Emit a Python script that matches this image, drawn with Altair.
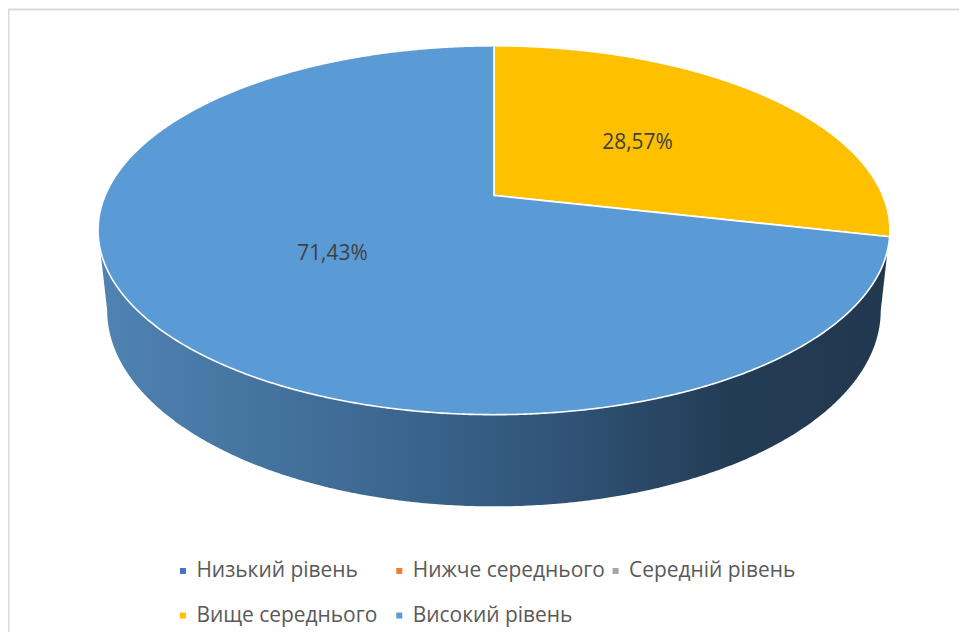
import altair as alt
import numpy as np
import pandas as pd

# ---- data ----
categories = ["Низький рівень", "Нижче середнього", "Середній рівень",
              "Вище середнього", "Високий рівень"]
values = [0.0, 0.0, 0.0, 28.57, 71.43]
colors = ["#4472c4", "#ed7d31", "#a5a5a5", "#ffc000", "#5b9bd5"]

# ---- geometry of the tilted (perspective) pie, in page pixels ----
W, H = 954, 625
X0, Y0 = 8, 8
CX, CY = 495.5, 195.0          # projected centre of top face
SX, SY, K = 390.0, 178.4, 0.189  # top face radii / perspective factor
BSX, BSY, BCY = 381.0, 189.5, 273.3  # base (bottom) rim
LABEL_R = 0.5


def top_pt(theta_deg, r=1.0):
    th = np.radians(theta_deg)
    d = 1 + K * r * np.cos(th)
    return CX + SX * r * np.sin(th) / d, CY - SY * r * np.cos(th) / d


def base_pt(theta_deg):
    th = np.radians(theta_deg)
    d = 1 + K * np.cos(th)
    return CX + BSX * np.sin(th) / d, BCY - BSY * np.cos(th) / d


total = sum(values)
slice_rows, label_rows = [], []
start = 0.0
for cat, v in zip(categories, values):
    span = 360.0 * v / total
    if v > 0:
        n = max(int(span * 3), 4)
        pts = [(CX, CY)] + [top_pt(t) for t in np.linspace(start, start + span, n + 1)]
        for i, (x, y) in enumerate(pts):
            slice_rows.append({"category": cat, "x": x, "y": y, "i": i})
        lx, ly = top_pt(start + span / 2, LABEL_R)
        label_rows.append({"category": cat, "x": lx, "y": ly,
                           "text": f"{v:.2f}".replace(".", ",") + "%"})
    start += span

slices_df = pd.DataFrame(slice_rows)
labels_df = pd.DataFrame(label_rows)

# side wall (front half) polygon: top rim front arc + base rim back
th_s = np.degrees(np.arccos(-K))
front = np.linspace(th_s, 360 - th_s, 400)
side_pts = [top_pt(t) for t in front] + [base_pt(t) for t in front[::-1]]
side_df = pd.DataFrame({"x": [p[0] for p in side_pts],
                        "y": [p[1] for p in side_pts],
                        "i": range(len(side_pts))})

xs = alt.Scale(domain=[X0, X0 + W], nice=False, zero=False)
ys = alt.Scale(domain=[Y0, Y0 + H], nice=False, zero=False, reverse=True)

side_grad = alt.Gradient(
    gradient="linear", x1=0, x2=1, y1=0, y2=0,
    stops=[alt.GradientStop(color="#5083b3", offset=0),
           alt.GradientStop(color="#3d6892", offset=0.35),
           alt.GradientStop(color="#2f5275", offset=0.6),
           alt.GradientStop(color="#233c55", offset=0.8),
           alt.GradientStop(color="#21384f", offset=1)])

side = alt.Chart(side_df).mark_line(
    interpolate="linear-closed", filled=True, fill=side_grad, strokeWidth=0
).encode(
    x=alt.X("x:Q", scale=xs, axis=None),
    y=alt.Y("y:Q", scale=ys, axis=None),
    order="i:Q",
)

top = alt.Chart(slices_df).mark_line(
    interpolate="linear-closed", filled=True, stroke="white",
    strokeWidth=1.6, strokeJoin="round"
).encode(
    x=alt.X("x:Q", scale=xs, axis=None),
    y=alt.Y("y:Q", scale=ys, axis=None),
    fill=alt.Fill("category:N",
                  scale=alt.Scale(domain=categories, range=colors),
                  legend=alt.Legend(
                      title=None, orient="none", legendX=165, legendY=553,
                      direction="horizontal", columns=3, gridAlign="all",
                      columnPadding=0, rowPadding=23, padding=0,
                      symbolType="square", symbolSize=36,
                      symbolStrokeWidth=0, symbolOpacity=1,
                      labelFont="Open Sans", labelFontSize=21,
                      labelColor="#595959", labelOffset=3, labelLimit=400)),
    detail="category:N",
    order="i:Q",
)

text = alt.Chart(labels_df).mark_text(
    font="Open Sans", fontSize=21, color="#404040", baseline="middle",
    align="center"
).encode(
    x=alt.X("x:Q", scale=xs, axis=None),
    y=alt.Y("y:Q", scale=ys, axis=None),
    text="text:N",
)

border_top = alt.Chart(pd.DataFrame({"a": [0]})).mark_rule(
    color="#d9d9d9", strokeWidth=2
).encode(x=alt.value(0), x2=alt.value(W), y=alt.value(0.5))
border_left = alt.Chart(pd.DataFrame({"a": [0]})).mark_rule(
    color="#d9d9d9", strokeWidth=2
).encode(x=alt.value(0.5), y=alt.value(0), y2=alt.value(H))

chart = alt.layer(border_top, border_left, side, top, text).properties(
    width=W, height=H, padding=0, autosize=alt.AutoSizeParams(type="none")
).configure_view(stroke=None)

chart.save("out.html", embed_options={"renderer": "svg", "actions": False})
